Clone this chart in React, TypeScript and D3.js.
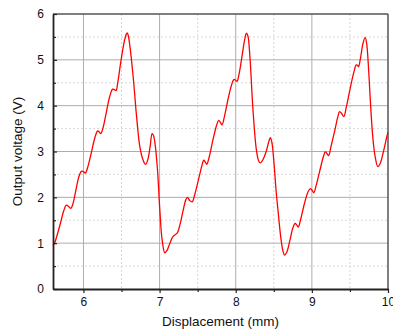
import React, { useEffect, useRef } from 'react';
import * as d3 from 'd3';

// displacement (mm) and output voltage (V)
const displacement = [
  5.6, 5.62, 5.65, 5.7, 5.74, 5.775, 5.805, 5.835, 5.86, 5.9, 5.94, 5.976, 6.0, 6.025, 6.055, 6.1, 6.15,
  6.186, 6.205, 6.228, 6.255, 6.3, 6.345, 6.383, 6.405, 6.428, 6.45, 6.49, 6.53, 6.56, 6.575, 6.59, 6.61,
  6.653, 6.698, 6.741, 6.784, 6.816, 6.845, 6.875, 6.902, 6.92, 6.938, 6.973, 7.003, 7.034, 7.069, 7.1,
  7.134, 7.17, 7.2, 7.235, 7.27, 7.31, 7.345, 7.366, 7.395, 7.427, 7.46, 7.52, 7.56, 7.58, 7.6, 7.62,
  7.65, 7.7, 7.75, 7.777, 7.8, 7.82, 7.85, 7.9, 7.945, 7.974, 7.995, 8.017, 8.045, 8.08, 8.115, 8.14,
  8.16, 8.185, 8.227, 8.27, 8.3, 8.324, 8.36, 8.4, 8.435, 8.455, 8.475, 8.5, 8.53, 8.555, 8.59, 8.62,
  8.643, 8.67, 8.71, 8.75, 8.78, 8.8, 8.822, 8.85, 8.9, 8.95, 8.98, 9.0, 9.025, 9.055, 9.1, 9.15, 9.176,
  9.2, 9.22, 9.25, 9.3, 9.34, 9.364, 9.39, 9.42, 9.45, 9.5, 9.55, 9.583, 9.6, 9.613, 9.64, 9.67, 9.7,
  9.72, 9.745, 9.77, 9.8, 9.83, 9.866, 9.9, 9.94, 9.99, 10.0,
];
const voltage = [
  0.95, 1.0, 1.15, 1.45, 1.7, 1.83, 1.8, 1.76, 1.85, 2.15, 2.45, 2.57, 2.56, 2.53, 2.65, 2.95, 3.3,
  3.45, 3.43, 3.39, 3.5, 3.85, 4.2, 4.36, 4.35, 4.33, 4.5, 4.95, 5.35, 5.55, 5.59, 5.52, 5.3,
  4.63, 3.76, 3.1, 2.81, 2.72, 2.82, 3.1, 3.39, 3.35, 3.2, 2.59, 1.72, 1.06, 0.79, 0.85,
  0.99, 1.13, 1.18, 1.23, 1.42, 1.72, 1.95, 2.0, 1.93, 1.9, 2.05, 2.45, 2.72, 2.81, 2.77, 2.72,
  2.87, 3.25, 3.58, 3.68, 3.63, 3.58, 3.75, 4.15, 4.45, 4.57, 4.56, 4.53, 4.7, 5.05, 5.42, 5.58,
  5.52, 5.1, 3.9, 3.05, 2.8, 2.75, 2.83, 3.0, 3.22, 3.3, 3.2, 2.8, 2.15, 1.72, 1.15, 0.83,
  0.74, 0.8, 1.05, 1.33, 1.43, 1.4, 1.35, 1.5, 1.85, 2.12, 2.19, 2.16, 2.1, 2.25, 2.55, 2.88, 2.99,
  2.95, 2.91, 3.1, 3.45, 3.75, 3.87, 3.83, 3.76, 3.95, 4.35, 4.72, 4.89, 4.88, 4.85, 5.05, 5.35, 5.49,
  5.35, 4.8, 4.05, 3.32, 2.9, 2.67, 2.75, 3.0, 3.36, 3.42,
];

const xTicks = [6, 7, 8, 9, 10];
const yTicks = [0, 1, 2, 3, 4, 5, 6];
const xMinor = [6.5, 7.5, 8.5, 9.5];
const yMinor = [0.5, 1.5, 2.5, 3.5, 4.5, 5.5];

const WIDTH = 393;
const HEIGHT = 332;
const MARGIN = { top: 14, right: 5, bottom: 43, left: 53 };
const FONT = 'Liberation Sans, Arial, sans-serif';

const App: React.FC = () => {
  const svgRef = useRef<SVGSVGElement>(null);

  useEffect(() => {
    if (!svgRef.current) return;
    const root = d3.select(svgRef.current);
    root.selectAll('*').remove();

    const w = WIDTH - MARGIN.left - MARGIN.right;
    const h = HEIGHT - MARGIN.top - MARGIN.bottom;
    const g = root.append('g').attr('transform', `translate(${MARGIN.left},${MARGIN.top})`);

    const x = d3.scaleLinear().domain([5.6, 10]).range([0, w]);
    const y = d3.scaleLinear().domain([0, 6]).range([h, 0]);

    // minor grid (dotted)
    g.selectAll('.gx-minor')
      .data(xMinor)
      .enter()
      .append('line')
      .attr('x1', d => x(d))
      .attr('x2', d => x(d))
      .attr('y1', 0)
      .attr('y2', h)
      .attr('stroke', '#d8d8d8')
      .attr('stroke-dasharray', '2,2');
    g.selectAll('.gy-minor')
      .data(yMinor)
      .enter()
      .append('line')
      .attr('x1', 0)
      .attr('x2', w)
      .attr('y1', d => y(d))
      .attr('y2', d => y(d))
      .attr('stroke', '#d8d8d8')
      .attr('stroke-dasharray', '2,2');

    // major grid
    g.selectAll('.gx')
      .data(xTicks.slice(0, -1))
      .enter()
      .append('line')
      .attr('x1', d => x(d))
      .attr('x2', d => x(d))
      .attr('y1', 0)
      .attr('y2', h)
      .attr('stroke', '#adadad');
    g.selectAll('.gy')
      .data(yTicks.slice(1, -1))
      .enter()
      .append('line')
      .attr('x1', 0)
      .attr('x2', w)
      .attr('y1', d => y(d))
      .attr('y2', d => y(d))
      .attr('stroke', '#adadad');

    // the trace
    const pts: [number, number][] = displacement.map((d, i) => [d, voltage[i]]);
    const line = d3
      .line<[number, number]>()
      .x(d => x(d[0]))
      .y(d => y(d[1]))
      .curve(d3.curveCatmullRom.alpha(0.5));
    g.append('path')
      .attr('d', line(pts) || '')
      .attr('fill', 'none')
      .attr('stroke', '#ff0000')
      .attr('stroke-width', 1.3);

    // frame: top / right
    g.append('line').attr('x1', 0).attr('x2', w).attr('y1', 0).attr('y2', 0).attr('stroke', '#555').attr('stroke-width', 1.5);
    g.append('line').attr('x1', w).attr('x2', w).attr('y1', 0).attr('y2', h).attr('stroke', '#555').attr('stroke-width', 1.5);

    // x axis, ticks outward
    const xAxis = g
      .append('g')
      .attr('transform', `translate(0,${h})`)
      .call(d3.axisBottom(x).tickValues(xTicks).tickSize(4).tickSizeOuter(0).tickPadding(4).tickFormat(d3.format('d')));
    g.append('g')
      .attr('transform', `translate(0,${h})`)
      .call(d3.axisBottom(x).tickValues(xMinor).tickSize(3).tickSizeOuter(0).tickFormat(() => ''))
      .select('.domain')
      .remove();

    // y axis, ticks inward
    const yAxis = g
      .append('g')
      .call(d3.axisLeft(y).tickValues(yTicks).tickSize(-4).tickSizeOuter(0).tickPadding(9).tickFormat(d3.format('d')));
    g.append('g')
      .call(d3.axisLeft(y).tickValues(yMinor).tickSize(-3).tickSizeOuter(0).tickFormat(() => ''))
      .select('.domain')
      .remove();

    [xAxis, yAxis].forEach(a => {
      a.select('.domain').attr('stroke', '#222').attr('stroke-width', 1.8);
      a.selectAll('.tick text').attr('fill', '#111').style('font-family', FONT).style('font-size', '12px');
    });
    root.selectAll('.tick line').attr('stroke', '#222').attr('stroke-width', 1.2);

    // axis titles
    root
      .append('text')
      .attr('x', MARGIN.left + w / 2)
      .attr('y', 326)
      .attr('text-anchor', 'middle')
      .style('font-family', FONT)
      .style('font-size', '13.5px')
      .attr('fill', '#111')
      .text('Displacement (mm)');
    root
      .append('text')
      .attr('transform', `translate(22,${MARGIN.top + h / 2}) rotate(-90)`)
      .attr('text-anchor', 'middle')
      .style('font-family', FONT)
      .style('font-size', '13.5px')
      .attr('fill', '#111')
      .text('Output voltage (V)');
  }, []);

  return (
    <svg
      ref={svgRef}
      width={WIDTH}
      height={HEIGHT}
      style={{ position: 'absolute', left: 0, top: 0, background: '#fff' }}
    />
  );
};

export default App;
